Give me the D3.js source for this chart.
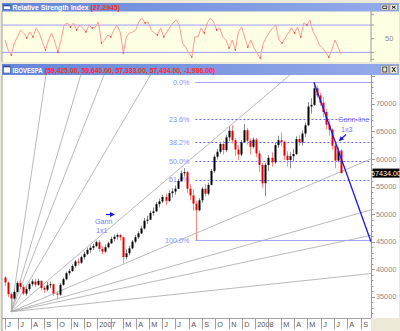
<!DOCTYPE html>
<html><head><meta charset="utf-8">
<script src="https://cdn.jsdelivr.net/npm/d3@7/dist/d3.min.js"></script>
<style>body{margin:0;background:#ece9d8;}svg{display:block}</style>
</head><body>
<svg id="c" width="400" height="331"></svg>
<script>
// ---------- DATA (weekly bars, first bar week ending 2006-06-02) ----------
const firstBar = "2006-06-02";
const open  = [38500,37600,35500,34700,35900,37500,36800,35600,36400,37300,37800,37200,37900,36600,36300,37100,37300,35600,35400,37200,38200,39300,39700,40600,41400,41200,42200,42800,43500,43900,44200,44900,43700,43200,44000,44700,45500,45900,46200,45800,42200,42900,43800,45000,45800,46500,47400,48800,49000,50200,50500,51800,52300,53100,52400,53800,54100,54600,56000,57400,57600,54600,53400,51900,50700,52500,54600,53700,55300,57800,60400,61300,62700,61600,63900,65100,63400,61700,60800,63000,65200,63300,62200,63500,61000,58900,55600,58900,60200,59400,62500,63400,63100,60600,59800,60500,60900,63600,63000,64600,66100,69500,69800,72800,71500,70200,68500,66200,65300,62400,59700,61500];
const high  = [38800,37800,35800,36300,37900,38000,37200,36900,37600,38200,38300,38300,38000,37000,37700,37800,37400,36000,37500,38500,39600,40100,40900,41700,42000,42500,43200,43900,44300,44600,45200,45300,44200,44500,45000,45900,46300,46500,46400,45900,43600,44300,45300,46200,46900,47900,49300,49700,50600,51200,52200,52800,53500,53700,54300,54700,55200,56400,57900,58300,57800,55400,54500,52400,52900,54900,55400,55700,58200,60800,61800,63100,63300,64400,65900,66100,63800,62500,63400,66300,65600,63600,63900,63800,61500,59200,59300,60700,61200,62900,64200,64800,63300,61400,61200,61800,64100,64300,65200,66600,70300,71000,73900,73300,72000,71200,69000,67000,65500,63000,62100,61800];
const low   = [37000,35000,32300,34500,35800,36400,35300,35200,36000,36900,36800,37000,36200,35700,36000,36600,35200,34500,35200,37000,38000,38900,39500,40300,40700,41000,41800,42600,43000,43500,44000,43200,42700,43000,43800,44600,45000,45400,45200,41100,41800,42500,43600,44700,45500,46400,47200,48200,48900,49700,50400,51200,52000,51600,52200,53000,53500,54500,55800,56800,53800,52500,50600,45300,50500,52000,53200,53400,55200,57500,59900,60900,60800,61200,63200,62800,60500,59800,60500,62900,62600,60800,61900,60300,57600,54800,53300,57800,58600,59100,62000,62300,59800,58600,58300,59600,60700,62400,62400,64000,66000,68200,69600,71000,69600,67600,65400,64200,61700,58300,59400,57333];
const close = [37600,35500,34700,35900,37500,36800,35600,36400,37300,37800,37200,37900,36600,36300,37100,37300,35600,35400,37200,38200,39300,39700,40600,41400,41200,42200,42800,43500,43900,44200,44900,43700,43200,44000,44700,45500,45900,46200,45800,42200,42900,43800,45000,45800,46500,47400,48800,49000,50200,50500,51800,52300,53100,52400,53800,54100,54600,56000,57400,57600,54600,53400,51900,50700,52500,54600,53700,55300,57800,60400,61300,62700,61600,63900,65100,63400,61700,60800,63000,65200,63300,62200,63500,61000,58900,55600,58900,60200,59400,62500,63400,63100,60600,59800,60500,60900,63600,63000,64600,66100,69500,69800,72800,71500,70200,68500,66200,65300,62400,59700,61500,57434];
const rsi = [48.1,33.5,26.1,43.7,52.5,62.7,58.3,51.0,59.8,52.5,65.7,58.3,45.2,33.5,48.1,58.3,45.2,30.5,48.1,70.1,73.0,67.1,73.0,62.7,70.1,65.7,59.8,70.1,65.7,67.1,74.5,43.7,48.1,55.4,52.5,62.7,70.1,59.8,29.1,52.5,58.3,59.8,62.7,74.5,80.3,73.0,74.5,62.7,58.3,55.4,65.7,52.5,59.8,67.1,73.0,77.4,70.1,43.7,37.8,29.1,23.2,52.5,52.5,65.7,58.3,73.0,80.3,74.5,62.7,65.7,52.5,48.1,36.4,48.1,33.5,59.8,67.1,52.5,37.8,48.1,36.4,29.1,21.7,43.7,52.5,59.8,65.7,70.1,48.1,43.7,51.0,58.3,65.7,58.3,67.1,52.5,73.0,70.1,77.4,59.8,52.5,40.8,36.4,30.5,23.2,33.5,48.1,37.8,27.3];
const priceTicks = [35000,40000,45000,50000,55000,60000,65000,70000];
const rsiLevels = [30,70];
const monthLabels = ["J","J","A","S","O","N","D","2007","","M","A","M","J","J","A","S","O","N","D","2008","","M","A","M","J","J","A","S"];
const fibRatios = [0,0.236,0.382,0.5,0.618,1];
const fibLabels = ["0.0%","23.6%","38.2%","50.0%","61.8%","100.0%"];
const fibHigh = 73920, fibLow = 45300, fibStart = "2007-08-16";
const gannRatios = [8,4,3,2,1,1/2,1/3,1/4,1/8];
const gannUnit = 66.6;        // index points per day for 1x1
const gann2PerDay = -219;     // "Gann-line 1x3" from May 2008 top
const lastValue = "57434.00";

// ---------- SCALES ----------
const parse = d3.timeParse("%Y-%m-%d");
const P = {l:2, r:371, t:75, b:318};
const x = d3.scaleTime().domain([parse("2006-05-26"), parse("2008-09-25")]).range([P.l, P.r]);
const y = d3.scaleLinear().domain([31170, 75030]).range([318, 76]);
const yr = d3.scaleLinear().domain([16, 90.5]).range([62, 11]);
const d0 = parse(firstBar);
const bars = close.map((c,i)=>({date:d3.timeDay.offset(d0, 7*i), o:open[i], h:high[i], l:low[i], c}));
const lastDate = bars[bars.length-1].date;

const svg = d3.select("#c");
const defs = svg.append("defs");
const g1 = defs.append("linearGradient").attr("id","tb");
g1.append("stop").attr("offset","0").attr("stop-color","#6585d8");
g1.append("stop").attr("offset","1").attr("stop-color","#94abea");
defs.append("clipPath").attr("id","clipMain").append("rect").attr("x",P.l).attr("y",P.t).attr("width",P.r-P.l).attr("height",P.b-P.t);
defs.append("clipPath").attr("id","clipRsi").append("rect").attr("x",P.l).attr("y",11).attr("width",P.r-P.l).attr("height",51);

svg.append("rect").attr("width",400).attr("height",331).attr("fill","#ece9d8");

// ---------- title bars ----------
function titleBar(yy, h, name, nameLen, val, valX, valLen){
  const g = svg.append("g");
  g.append("rect").attr("x",2).attr("y",yy).attr("width",397).attr("height",h).attr("fill","url(#tb)");
  g.append("rect").attr("x",3.5).attr("y",yy+2).attr("width",7).attr("height",h-4).attr("fill","#fff").attr("stroke","#34489a").attr("stroke-width",0.6);
  g.append("rect").attr("x",3.5).attr("y",yy+2).attr("width",7).attr("height",1.3).attr("fill","#34489a");
  g.append("text").attr("x",12.5).attr("y",yy+h-2).attr("font-family","Liberation Sans, Arial").attr("font-weight","bold").attr("font-size",7).attr("fill","#fff")
    .attr("textLength",nameLen).attr("lengthAdjust","spacingAndGlyphs").text(name);
  g.append("text").attr("x",valX).attr("y",yy+h-2).attr("font-family","Liberation Sans, Arial").attr("font-weight","bold").attr("font-size",7).attr("fill","#ff2a2a")
    .attr("textLength",valLen).attr("lengthAdjust","spacingAndGlyphs").text(val);
  [381,390].forEach((bx,k)=>{
    g.append("rect").attr("x",bx).attr("y",yy+1.5).attr("width",7.5).attr("height",h-3).attr("fill","#ece9d8").attr("stroke","#7f7f7f").attr("stroke-width",0.5);
    if(k===0) g.append("rect").attr("x",bx+1.8).attr("y",yy+3).attr("width",4).attr("height",h-6).attr("fill","none").attr("stroke","#000").attr("stroke-width",0.7);
    else { g.append("path").attr("d",`M${bx+2},${yy+3}L${bx+5.5},${yy+h-3}M${bx+5.5},${yy+3}L${bx+2},${yy+h-3}`).attr("stroke","#000").attr("stroke-width",0.9); }
  });
}

// ---------- RSI panel ----------
svg.append("rect").attr("x",2).attr("y",11).attr("width",397).attr("height",51).attr("fill","#ffffe4");
titleBar(3, 8.5, "Relative Strength Index", 76, "(27.2945)", 90.5, 29.5);
const gr = svg.append("g").attr("clip-path","url(#clipRsi)");
rsiLevels.forEach(v=>gr.append("line").attr("x1",P.l).attr("x2",P.r).attr("y1",yr(v)).attr("y2",yr(v)).attr("stroke","#9e9eff").attr("stroke-width",1));
const rsiX = i => x(new Date(+bars[0].date + (lastDate - bars[0].date) * i/(rsi.length-1)));
gr.append("path").datum(rsi).attr("fill","none").attr("stroke","#ff9a9a").attr("stroke-width",1)
  .attr("d", d3.line().x((d,i)=>rsiX(i)).y(d=>yr(d)));
gr.selectAll("rect.rd").data(rsi.map((v,i)=>({v,i})).filter(({v,i})=>i>0&&i<rsi.length-1&&(v<rsi[i-1]&&v<rsi[i+1])))
  .join("rect").attr("x",d=>rsiX(d.i)-0.6).attr("y",d=>yr(d.v)-0.6).attr("width",1.2).attr("height",1.2).attr("fill","#e60000");
svg.append("line").attr("x1",P.r).attr("x2",P.r).attr("y1",11).attr("y2",62).attr("stroke","#9a9a9a");
[20,30,50,70,85].forEach(v=>svg.append("line").attr("x1",P.r).attr("x2",P.r+3).attr("y1",yr(v)).attr("y2",yr(v)).attr("stroke","#9a9a9a"));
svg.append("text").attr("x",385).attr("y",yr(50)+2.5).attr("font-family","Liberation Sans, Arial").attr("font-size",7.5).attr("fill","#8a8a8a").text("50");
svg.append("line").attr("x1",2).attr("x2",2).attr("y1",11).attr("y2",62).attr("stroke","#a0a0a0");

// ---------- main panel ----------
svg.append("rect").attr("x",2).attr("y",75).attr("width",397).attr("height",243).attr("fill","#fff");
svg.append("rect").attr("x",2).attr("y",318).attr("width",369).attr("height",13).attr("fill","#fff");
titleBar(64, 11, "IBOVESPA", 30, "(59,425.00, 59,640.00, 57,333.00, 57,434.00, -1,986.00)", 45, 170);
const gm = svg.append("g").attr("clip-path","url(#clipMain)");

// Gann fan from the 2006 low
let iMin = d3.minIndex(low);
const gd0 = bars[iMin].date, gp0 = low[iMin], dEnd = x.domain()[1];
const days = (dEnd - gd0)/864e5;
gannRatios.forEach(r=>{
  gm.append("line").attr("x1",x(gd0)).attr("y1",y(gp0)).attr("x2",x(dEnd)).attr("y2",y(gp0 + r*gannUnit*days))
    .attr("stroke","#a8a8a8").attr("stroke-width",0.8);
});

// Fibonacci retracement
const fx0 = x(parse(fibStart));
fibRatios.forEach((r,k)=>{
  const v = fibHigh - r*(fibHigh-fibLow);
  const solid = (r===0||r===1);
  gm.append("line").attr("x1",fx0).attr("x2",P.r).attr("y1",Math.round(y(v))+0.5).attr("y2",Math.round(y(v))+0.5)
    .attr("stroke", solid?"#a4a4ff":"#6c6cff").attr("stroke-width",1).attr("stroke-dasharray", solid?null:"2,2");
  gm.append("text").attr("x",fx0-6).attr("y",y(v)+2.6).attr("text-anchor","end").attr("font-family","Liberation Sans, Arial")
    .attr("font-size",7.2).attr("fill","#8c8cff").text(fibLabels[k]);
});

// candles
const cg = gm.append("g");
bars.forEach(b=>{
  const up = b.c >= b.o;
  const xx = Math.round(x(b.date))+0.5;
  cg.append("line").attr("x1",xx).attr("x2",xx).attr("y1",y(b.h)).attr("y2",y(b.l)).attr("stroke", up?"#8a8a8a":"#ff8a8a").attr("stroke-width",1);
  const top = y(Math.max(b.o,b.c)), bot = y(Math.min(b.o,b.c));
  cg.append("rect").attr("x",xx-1).attr("y",top).attr("width",2).attr("height",Math.max(1,bot-top)).attr("fill", up?"#000":"#e80000");
});

// Gann line from the 2008 top
const iMax = d3.maxIndex(high);
const td = bars[iMax].date, tp = high[iMax];
const days2 = (dEnd - td)/864e5;
gm.append("line").attr("x1",x(td)).attr("y1",y(tp)).attr("x2",x(dEnd)).attr("y2",y(tp + gann2PerDay*days2))
  .attr("stroke","#1a1aee").attr("stroke-width",1.3);

// annotations
const ann = svg.append("g").attr("font-family","Liberation Sans, Arial").attr("font-size",7.2).attr("fill","#7a7aff");
ann.append("text").attr("x",95).attr("y",224).text("Gann");
ann.append("text").attr("x",96).attr("y",233).text("1x1");
ann.append("text").attr("x",338).attr("y",122).text("Gann-line");
ann.append("text").attr("x",341).attr("y",132).text("1x3");
defs.append("marker").attr("id","ah").attr("viewBox","0 0 6 6").attr("refX",5).attr("refY",3).attr("markerWidth",4).attr("markerHeight",4).attr("orient","auto")
  .append("path").attr("d","M0,0L6,3L0,6Z").attr("fill","#1a1aee");
svg.append("line").attr("x1",106).attr("y1",214.5).attr("x2",114).attr("y2",214.5).attr("stroke","#1a1aee").attr("stroke-width",1.2).attr("marker-end","url(#ah)");
svg.append("line").attr("x1",346).attr("y1",134.5).attr("x2",339.5).attr("y2",140.5).attr("stroke","#1a1aee").attr("stroke-width",1.2).attr("marker-end","url(#ah)");

// right price axis
svg.append("line").attr("x1",P.r+0.5).attr("x2",P.r+0.5).attr("y1",P.t).attr("y2",P.b).attr("stroke","#9a9a9a");
d3.range(32000, 75001, 1000).forEach(v=>{
  const major = v % 5000 === 0;
  svg.append("line").attr("x1",P.r).attr("x2",P.r+(major?4:2.5)).attr("y1",Math.round(y(v))+0.5).attr("y2",Math.round(y(v))+0.5).attr("stroke","#9a9a9a");
});
priceTicks.forEach(v=>svg.append("text").attr("x",376).attr("y",y(v)+2.6).attr("font-family","Liberation Sans, Arial").attr("font-size",7.3).attr("fill","#8a8a8a").text(v));
svg.append("rect").attr("x",372.5).attr("y",y(57434)-4.5).attr("width",27).attr("height",9).attr("fill","#000");
svg.append("text").attr("x",386).attr("y",y(57434)+2.5).attr("text-anchor","middle").attr("font-family","Liberation Sans, Arial").attr("font-size",7.2).attr("fill","#fff").text(lastValue);

// bottom month axis
svg.append("line").attr("x1",P.l).attr("x2",P.r).attr("y1",P.b+0.5).attr("y2",P.b+0.5).attr("stroke","#a0a0a0");
const months = d3.timeMonth.range(parse("2006-06-01"), parse("2008-09-02"));
months.forEach((m,k)=>{
  const xx = Math.round(x(m))+0.5;
  svg.append("line").attr("x1",xx).attr("x2",xx).attr("y1",P.b).attr("y2",329).attr("stroke","#a0a0a0");
  if(monthLabels[k]) svg.append("text").attr("x",xx+1.8).attr("y",327).attr("font-family","Liberation Sans, Arial").attr("font-size",7.3).attr("fill","#555").text(monthLabels[k]);
});
svg.append("line").attr("x1",2).attr("x2",2).attr("y1",75).attr("y2",331).attr("stroke","#a0a0a0");
</script>
</body></html>
